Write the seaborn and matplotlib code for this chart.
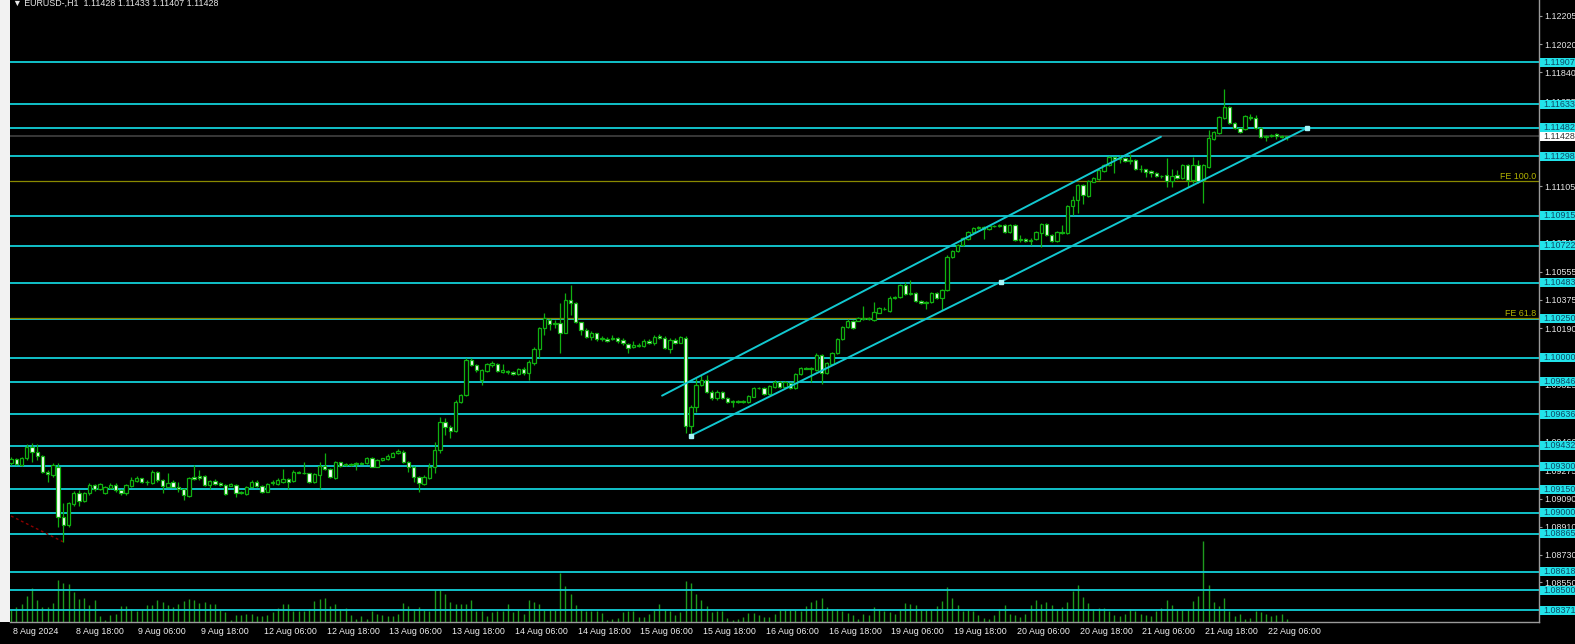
import numpy as np
import pandas as pd
import matplotlib
matplotlib.use("Agg")
import matplotlib.pyplot as plt
import seaborn as sns
from matplotlib.patches import Rectangle
from matplotlib.transforms import blended_transform_factory

# ---------------- data (EURUSD H1, 8 Aug 06:00 -> 22 Aug 09:00) ----------------
opens = [1.09319,1.09345,1.09308,1.09351,1.09422,1.09394,1.09366,1.09265,1.09244,1.09297,
1.08971,1.08921,1.09057,1.09130,1.09078,1.09125,1.09177,1.09151,1.09130,1.09158,
1.09179,1.09147,1.09125,1.09173,1.09203,1.09222,1.09201,1.09190,1.09265,1.09211,
1.09168,1.09199,1.09168,1.09151,1.09110,1.09229,1.09237,1.09237,1.09179,1.09205,
1.09190,1.09179,1.09175,1.09179,1.09130,1.09121,1.09168,1.09201,1.09173,1.09136,
1.09194,1.09184,1.09201,1.09216,1.09205,1.09259,1.09259,1.09254,1.09197,1.09244,
1.09302,1.09280,1.09222,1.09325,1.09306,1.09308,1.09317,1.09317,1.09319,1.09356,
1.09297,1.09341,1.09347,1.09362,1.09384,1.09394,1.09329,1.09297,1.09232,1.09185,
1.09222,1.09297,1.09405,1.09583,1.09555,1.09529,1.09714,1.09759,1.09985,1.09953,
1.09856,1.09916,1.09953,1.09957,1.09910,1.09910,1.09908,1.09895,1.09925,1.09899,
1.09968,1.10054,1.10189,1.10243,1.10217,1.10222,1.10161,1.10372,1.10351,1.10228,
1.10179,1.10136,1.10157,1.10118,1.10123,1.10118,1.10125,1.10114,1.10088,1.10067,
1.10077,1.10075,1.10110,1.10093,1.10140,1.10129,1.10054,1.10114,1.10097,1.10125,
1.09561,1.09684,1.09824,1.09856,1.09781,1.09738,1.09781,1.09738,1.09716,1.09720,
1.09716,1.09716,1.09748,1.09804,1.09806,1.09766,1.09813,1.09845,1.09813,1.09838,
1.09802,1.09895,1.09934,1.09925,1.09921,1.10017,1.09903,1.09959,1.10030,1.10121,
1.10198,1.10239,1.10239,1.10250,1.10256,1.10243,1.10290,1.10317,1.10303,1.10387,
1.10391,1.10469,1.10411,1.10419,1.10367,1.10351,1.10361,1.10417,1.10385,1.10437,
1.10651,1.10686,1.10727,1.10766,1.10811,1.10836,1.10843,1.10830,1.10849,1.10849,
1.10856,1.10813,1.10856,1.10759,1.10764,1.10752,1.10766,1.10806,1.10862,1.10791,
1.10752,1.10813,1.10802,1.10978,1.11017,1.11114,1.11043,1.11135,1.11152,1.11206,
1.11243,1.11294,1.11281,1.11288,1.11271,1.11275,1.11215,1.11215,1.11204,1.11189,
1.11172,1.11178,1.11141,1.11178,1.11157,1.11243,1.11146,1.11243,1.11146,1.11232,
1.11410,1.11451,1.11544,1.11617,1.11512,1.11479,1.11473,1.11554,1.11544,1.11479,
1.11425,1.11430,1.11443,1.11430,1.11425]

highs = [1.09358,1.09351,1.09362,1.09444,1.09448,1.09444,1.09373,1.09276,1.09323,1.09319,
1.09061,1.09072,1.09141,1.09147,1.09136,1.09190,1.09184,1.09190,1.09173,1.09190,
1.09190,1.09153,1.09186,1.09233,1.09237,1.09227,1.09211,1.09276,1.09272,1.09216,
1.09254,1.09211,1.09201,1.09158,1.09233,1.09308,1.09276,1.09244,1.09211,1.09216,
1.09197,1.09186,1.09190,1.09186,1.09138,1.09173,1.09211,1.09211,1.09179,1.09190,
1.09211,1.09222,1.09280,1.09222,1.09276,1.09272,1.09330,1.09259,1.09259,1.09330,
1.09384,1.09287,1.09336,1.09330,1.09323,1.09319,1.09330,1.09325,1.09362,1.09362,
1.09345,1.09356,1.09377,1.09390,1.09409,1.09405,1.09336,1.09301,1.09237,1.09243,
1.09319,1.09458,1.09620,1.09609,1.09566,1.09727,1.09765,1.09995,1.09996,1.09959,
1.09925,1.09964,1.09981,1.09964,1.09959,1.09921,1.09916,1.09931,1.09942,1.09985,
1.10067,1.10200,1.10286,1.10254,1.10243,1.10351,1.10419,1.10469,1.10361,1.10232,
1.10189,1.10174,1.10161,1.10140,1.10131,1.10146,1.10136,1.10125,1.10097,1.10108,
1.10097,1.10118,1.10118,1.10146,1.10153,1.10140,1.10125,1.10125,1.10140,1.10140,
1.09695,1.09867,1.09888,1.09888,1.09790,1.09790,1.09787,1.09745,1.09725,1.09727,
1.09730,1.09760,1.09810,1.09813,1.09813,1.09824,1.09856,1.09850,1.09852,1.09845,
1.09900,1.09942,1.09940,1.09940,1.10030,1.10025,1.09972,1.10035,1.10128,1.10207,
1.10248,1.10245,1.10262,1.10333,1.10262,1.10361,1.10327,1.10325,1.10395,1.10400,
1.10475,1.10490,1.10501,1.10425,1.10372,1.10367,1.10425,1.10425,1.10443,1.10660,
1.10695,1.10735,1.10780,1.10818,1.10845,1.10850,1.10850,1.10856,1.10856,1.10862,
1.10862,1.10862,1.10860,1.10791,1.10770,1.10770,1.10818,1.10870,1.10870,1.10797,
1.10820,1.10856,1.10985,1.11043,1.11120,1.11120,1.11148,1.11165,1.11217,1.11250,
1.11300,1.11296,1.11307,1.11294,1.11314,1.11281,1.11243,1.11220,1.11210,1.11195,
1.11178,1.11288,1.11217,1.11210,1.11250,1.11250,1.11294,1.11275,1.11250,1.11469,
1.11463,1.11560,1.11733,1.11625,1.11518,1.11485,1.11565,1.11572,1.11565,1.11485,
1.11436,1.11443,1.11450,1.11436,1.11433]

lows = [1.09308,1.09308,1.09302,1.09341,1.09330,1.09341,1.09259,1.09201,1.09233,1.08910,
1.08814,1.08906,1.09044,1.09044,1.09072,1.09115,1.09143,1.09147,1.09119,1.09151,
1.09136,1.09115,1.09115,1.09168,1.09197,1.09190,1.09179,1.09186,1.09201,1.09125,
1.09164,1.09164,1.09136,1.09082,1.09104,1.09211,1.09211,1.09175,1.09151,1.09179,
1.09173,1.09115,1.09173,1.09104,1.09121,1.09115,1.09164,1.09168,1.09130,1.09132,
1.09179,1.09179,1.09190,1.09151,1.09201,1.09254,1.09250,1.09190,1.09190,1.09151,
1.09276,1.09222,1.09218,1.09297,1.09302,1.09304,1.09276,1.09313,1.09315,1.09293,
1.09293,1.09336,1.09341,1.09358,1.09379,1.09323,1.09265,1.09200,1.09136,1.09178,
1.09216,1.09254,1.09383,1.09501,1.09480,1.09523,1.09710,1.09750,1.09946,1.09910,
1.09824,1.09910,1.09938,1.09910,1.09899,1.09895,1.09888,1.09888,1.09888,1.09856,
1.09953,1.09996,1.10146,1.10179,1.10189,1.10032,1.10157,1.10275,1.10222,1.10146,
1.10125,1.10114,1.10108,1.10110,1.10101,1.10114,1.10097,1.10082,1.10032,1.10060,
1.10067,1.10071,1.10088,1.10082,1.10123,1.10054,1.10028,1.10088,1.10093,1.09512,
1.09497,1.09652,1.09817,1.09774,1.09729,1.09729,1.09735,1.09710,1.09684,1.09705,
1.09705,1.09710,1.09745,1.09795,1.09760,1.09760,1.09806,1.09806,1.09806,1.09795,
1.09795,1.09890,1.09925,1.09845,1.09915,1.09830,1.09895,1.09955,1.10025,1.10115,
1.10190,1.10185,1.10235,1.10243,1.10243,1.10236,1.10285,1.10305,1.10297,1.10380,
1.10385,1.10405,1.10405,1.10360,1.10345,1.10317,1.10355,1.10380,1.10307,1.10430,
1.10640,1.10680,1.10720,1.10760,1.10805,1.10830,1.10763,1.10825,1.10840,1.10843,
1.10806,1.10806,1.10752,1.10748,1.10745,1.10727,1.10759,1.10716,1.10785,1.10745,
1.10745,1.10797,1.10795,1.10920,1.10933,1.10991,1.11035,1.11130,1.11146,1.11200,
1.11237,1.11191,1.11258,1.11265,1.11249,1.11210,1.11200,1.11167,1.11167,1.11163,
1.11159,1.11103,1.11103,1.11152,1.11150,1.11103,1.11127,1.11127,1.10998,1.11225,
1.11405,1.11445,1.11538,1.11505,1.11473,1.11447,1.11467,1.11533,1.11473,1.11420,
1.11399,1.11425,1.11409,1.11420,1.11407]

closes = [1.09345,1.09315,1.09351,1.09422,1.09394,1.09366,1.09265,1.09250,1.09308,1.08975,
1.08921,1.09061,1.09130,1.09078,1.09125,1.09177,1.09151,1.09186,1.09164,1.09179,
1.09147,1.09125,1.09179,1.09211,1.09224,1.09197,1.09199,1.09265,1.09211,1.09173,
1.09194,1.09168,1.09151,1.09115,1.09222,1.09216,1.09227,1.09179,1.09205,1.09186,
1.09179,1.09119,1.09184,1.09125,1.09130,1.09168,1.09201,1.09173,1.09136,1.09184,
1.09194,1.09211,1.09216,1.09201,1.09265,1.09265,1.09254,1.09197,1.09250,1.09302,
1.09280,1.09229,1.09325,1.09304,1.09315,1.09315,1.09319,1.09319,1.09356,1.09297,
1.09341,1.09351,1.09368,1.09384,1.09399,1.09329,1.09297,1.09232,1.09189,1.09228,
1.09297,1.09405,1.09583,1.09551,1.09529,1.09712,1.09759,1.09985,1.09953,1.09921,
1.09921,1.09959,1.09964,1.09916,1.09921,1.09910,1.09895,1.09925,1.09903,1.09974,
1.10054,1.10189,1.10254,1.10217,1.10226,1.10161,1.10372,1.10351,1.10228,1.10179,
1.10136,1.10161,1.10120,1.10129,1.10108,1.10125,1.10108,1.10093,1.10065,1.10082,
1.10082,1.10110,1.10093,1.10136,1.10129,1.10060,1.10114,1.10097,1.10131,1.09561,
1.09684,1.09824,1.09856,1.09781,1.09738,1.09781,1.09738,1.09716,1.09720,1.09716,
1.09722,1.09753,1.09804,1.09806,1.09766,1.09817,1.09845,1.09813,1.09845,1.09802,
1.09895,1.09936,1.09930,1.09934,1.10017,1.09903,1.09966,1.10030,1.10121,1.10200,
1.10239,1.10190,1.10256,1.10256,1.10250,1.10297,1.10320,1.10314,1.10387,1.10391,
1.10469,1.10411,1.10419,1.10367,1.10351,1.10361,1.10417,1.10385,1.10437,1.10651,
1.10688,1.10727,1.10772,1.10811,1.10836,1.10843,1.10830,1.10849,1.10849,1.10856,
1.10813,1.10856,1.10759,1.10764,1.10752,1.10759,1.10811,1.10862,1.10791,1.10752,
1.10813,1.10802,1.10978,1.11017,1.11114,1.11049,1.11141,1.11159,1.11210,1.11243,
1.11294,1.11281,1.11288,1.11271,1.11275,1.11215,1.11217,1.11200,1.11189,1.11172,
1.11170,1.11141,1.11174,1.11157,1.11243,1.11146,1.11243,1.11141,1.11243,1.11415,
1.11456,1.11552,1.11617,1.11512,1.11479,1.11457,1.11559,1.11544,1.11479,1.11425,
1.11430,1.11436,1.11430,1.11425,1.11428]

volumes = [1340,1500,1770,2570,3440,2170,1500,1500,1900,4240,
3900,3840,3000,2340,2440,1670,2170,570,240,670,
840,1600,1600,1340,1100,1340,1670,1670,2240,2000,
1670,1500,1840,2070,2340,2240,1900,2000,1840,1770,
1240,1000,170,670,670,840,840,570,570,670,
1000,1440,1840,1840,1100,1100,1100,1340,2100,2340,
2440,1570,1770,1340,1400,670,340,570,340,1100,
840,670,570,570,840,1900,1570,1340,1500,1240,
1100,3170,3240,2770,2000,1840,1770,1840,2170,1070,
1070,570,1000,1100,1100,1840,1000,1200,840,2240,
2000,1770,1240,1340,1240,4940,3570,2770,1670,1340,
1100,1100,1100,900,170,340,440,1000,1100,1100,
500,500,840,1240,1840,1340,1100,670,1000,4100,
3940,2840,2240,1570,1000,1100,1100,440,240,340,
500,900,900,670,500,500,770,1240,1340,1240,
1240,1100,1570,2000,2170,2440,1500,1240,1340,1100,
940,670,340,840,670,1500,1340,1100,1000,840,
1240,1900,1770,1670,1240,1240,1240,1570,2100,3500,
2440,1670,1100,1240,1100,670,440,340,670,1340,
1670,840,670,500,770,1670,2170,1800,2000,1670,
1340,1500,2000,3100,3670,2500,1900,1340,1440,1400,
1100,670,570,840,1340,1100,770,670,570,1100,
1440,2170,1670,1340,1240,1240,2070,2570,8100,3670,
2000,1570,2400,1100,570,840,340,440,1100,1000,
770,570,740,770,340]

time_labels = ["8 Aug 2024", "8 Aug 18:00", "9 Aug 06:00", "9 Aug 18:00", "12 Aug 06:00",
               "12 Aug 18:00", "13 Aug 06:00", "13 Aug 18:00", "14 Aug 06:00", "14 Aug 18:00",
               "15 Aug 06:00", "15 Aug 18:00", "16 Aug 06:00", "16 Aug 18:00", "19 Aug 06:00",
               "19 Aug 18:00", "20 Aug 06:00", "20 Aug 18:00", "21 Aug 06:00", "21 Aug 18:00",
               "22 Aug 06:00"]
time_label_bars = [0, 12, 24, 36, 48, 60, 72, 84, 96, 108, 120, 132, 144, 156, 168,
                   180, 192, 204, 216, 228, 240]

scale_prices = [1.12205, 1.12020, 1.11840, 1.11655, 1.11105, 1.10740, 1.10555, 1.10375,
                1.10190, 1.09825, 1.09460, 1.09275, 1.09090, 1.08910, 1.08730, 1.08550]
level_prices = [1.11907, 1.11633, 1.11482, 1.11298, 1.10915, 1.10722, 1.10483, 1.10250,
                1.10000, 1.09846, 1.09636, 1.09432, 1.09300, 1.09150, 1.09000, 1.08865,
                1.08618, 1.08500, 1.08371]
current_price = 1.11428
fe_prices = [1.11140, 1.10256]
fe_labels = ["FE 100.0", "FE 61.8"]

channel_lower_bars = [130, 189.3, 247.8]
channel_lower_prices = [1.09497, 1.10490, 1.11481]
channel_upper_bars = [124.5, 219.9]
channel_upper_prices = [1.09755, 1.11425]
old_trend_bars = [0, 9.9]
old_trend_prices = [1.08979, 1.08813]

header = "\u25BC EURUSD-,H1  1.11428 1.11433 1.11407 1.11428"

# ---------------- styling ----------------
sns.set_theme(style="dark")
plt.rcParams["font.family"] = ["Liberation Sans", "DejaVu Sans"]

BG = "#000000"
GREEN = "#10b010"
VOLGREEN = "#1e9a1e"
CYAN = "#12c8d0"
LABEL_BOX = "#22e3ea"
LABEL_TXT = "#0d4a66"
OLIVE = "#8a8a00"
AXIS_GREY = "#9a9a9a"
FS = 6.4

W, H = 1575, 644
fig = plt.figure(figsize=(W / 100, H / 100), dpi=100, facecolor=BG)
left_px, right_px, top_px, bottom_px = 10, 1539, 0, 622
ax = fig.add_axes([left_px / W, (H - bottom_px) / H, (right_px - left_px) / W, (bottom_px - top_px) / H])
ax.set_facecolor(BG)
ax.grid(False)

ymin, ymax = 1.08295, 1.12307
ax.set_ylim(ymin, ymax)
xmin = -0.2
ax.set_xlim(xmin, xmin + 292.4)
px_per_price = (bottom_px - top_px) / (ymax - ymin)
axw = right_px - left_px

x = np.arange(len(closes))
o = np.array(opens); c = np.array(closes); hi = np.array(highs); lo = np.array(lows)

# volumes at the bottom of the price window
vol_full_scale = 62200.0
blend = blended_transform_factory(ax.transData, ax.transAxes)
ax.vlines(x, 0, np.array(volumes) / vol_full_scale, transform=blend,
          color=VOLGREEN, lw=1.0, zorder=1)

# horizontal levels
for p in level_prices:
    ax.axhline(p, color=CYAN, lw=1.35, zorder=2)
ax.axhline(current_price, color="#3c3c3c", lw=1.3, zorder=2)
for p in fe_prices:
    ax.axhline(p, color=OLIVE, lw=0.9, zorder=2.2)

# candles
up = c >= o
ax.vlines(x, lo, hi, color=GREEN, lw=0.9, zorder=3)
body_bottom = np.minimum(o, c)
body_h = np.maximum(np.abs(c - o), 0.00002)
ax.bar(x[up], body_h[up], bottom=body_bottom[up], width=0.64, color="black",
       edgecolor=GREEN, linewidth=0.9, zorder=4)
ax.bar(x[~up], body_h[~up], bottom=body_bottom[~up], width=0.64, color="white",
       edgecolor=GREEN, linewidth=0.9, zorder=4)

# channel lines
sns.lineplot(x=channel_lower_bars, y=channel_lower_prices, ax=ax, color=CYAN, lw=1.4,
             zorder=5, sort=False)
sns.lineplot(x=channel_upper_bars, y=channel_upper_prices, ax=ax, color=CYAN, lw=1.4,
             zorder=5, sort=False)
ax.plot(channel_lower_bars, channel_lower_prices, ls="none", marker="s", ms=3,
        color="#a8f4f8", zorder=6)
ax.plot(old_trend_bars, old_trend_prices, color="#8b0000", lw=1.0, ls=(0, (2, 2)), zorder=5)

# axes frame
for s in ["top", "left"]:
    ax.spines[s].set_visible(False)
for s in ["right", "bottom"]:
    ax.spines[s].set_color(AXIS_GREY)
    ax.spines[s].set_linewidth(1.0)

ax.set_xticks(time_label_bars)
ax.set_xticklabels([])
ax.tick_params(axis="x", direction="out", length=3, color=AXIS_GREY, width=0.8)
ax.yaxis.tick_right()
ax.set_yticks(scale_prices)
ax.set_yticklabels([f"{p:.5f}" for p in scale_prices])
ax.tick_params(axis="y", direction="out", length=2.5, color=AXIS_GREY, width=0.8,
               labelsize=FS, labelcolor="#e6e6e6", pad=1.5)
ax.set_xlabel(""); ax.set_ylabel("")

# time labels
for b, t in zip(time_label_bars, time_labels):
    ax.text(b + 0.35, -0.0075, t, transform=blend, ha="left", va="top",
            fontsize=FS, color="#f0f0f0", clip_on=False)

# level labels on price scale: boxes reaching the right edge of the picture
ytr = blended_transform_factory(ax.transAxes, ax.transData)
box_x0 = 1.0 + 1.0 / axw
box_w = (W - right_px) / axw
box_h = 9.0 / px_per_price
txt_x = 1.0 + 4.0 / axw

def price_label(p, fc, tc):
    ax.add_patch(Rectangle((box_x0, p - box_h / 2), box_w, box_h, transform=ytr,
                           facecolor=fc, edgecolor="none", clip_on=False, zorder=19))
    ax.text(txt_x, p, f"{p:.5f}", transform=ytr, ha="left", va="center", fontsize=FS,
            color=tc, clip_on=False, zorder=20)

for p in level_prices:
    price_label(p, LABEL_BOX, LABEL_TXT)
price_label(current_price, "white", "#303030")

for p, t in zip(fe_prices, fe_labels):
    ax.text(0.9985, p, t, transform=ytr, ha="right", va="bottom", fontsize=FS,
            color="#b4b400", zorder=7)

# left white strip and header
fig.patches.append(Rectangle((0, (H - bottom_px) / H), 9.5 / W, 1, transform=fig.transFigure,
                             facecolor="#f2f2f2", edgecolor="none", zorder=0))
fig.text(13 / W, 1 - 3.5 / H, header, ha="left", va="center", fontsize=FS, color="#e8e8e8",
         family=["Liberation Sans", "DejaVu Sans"])

fig.savefig("out.png", dpi=100, facecolor=BG)
